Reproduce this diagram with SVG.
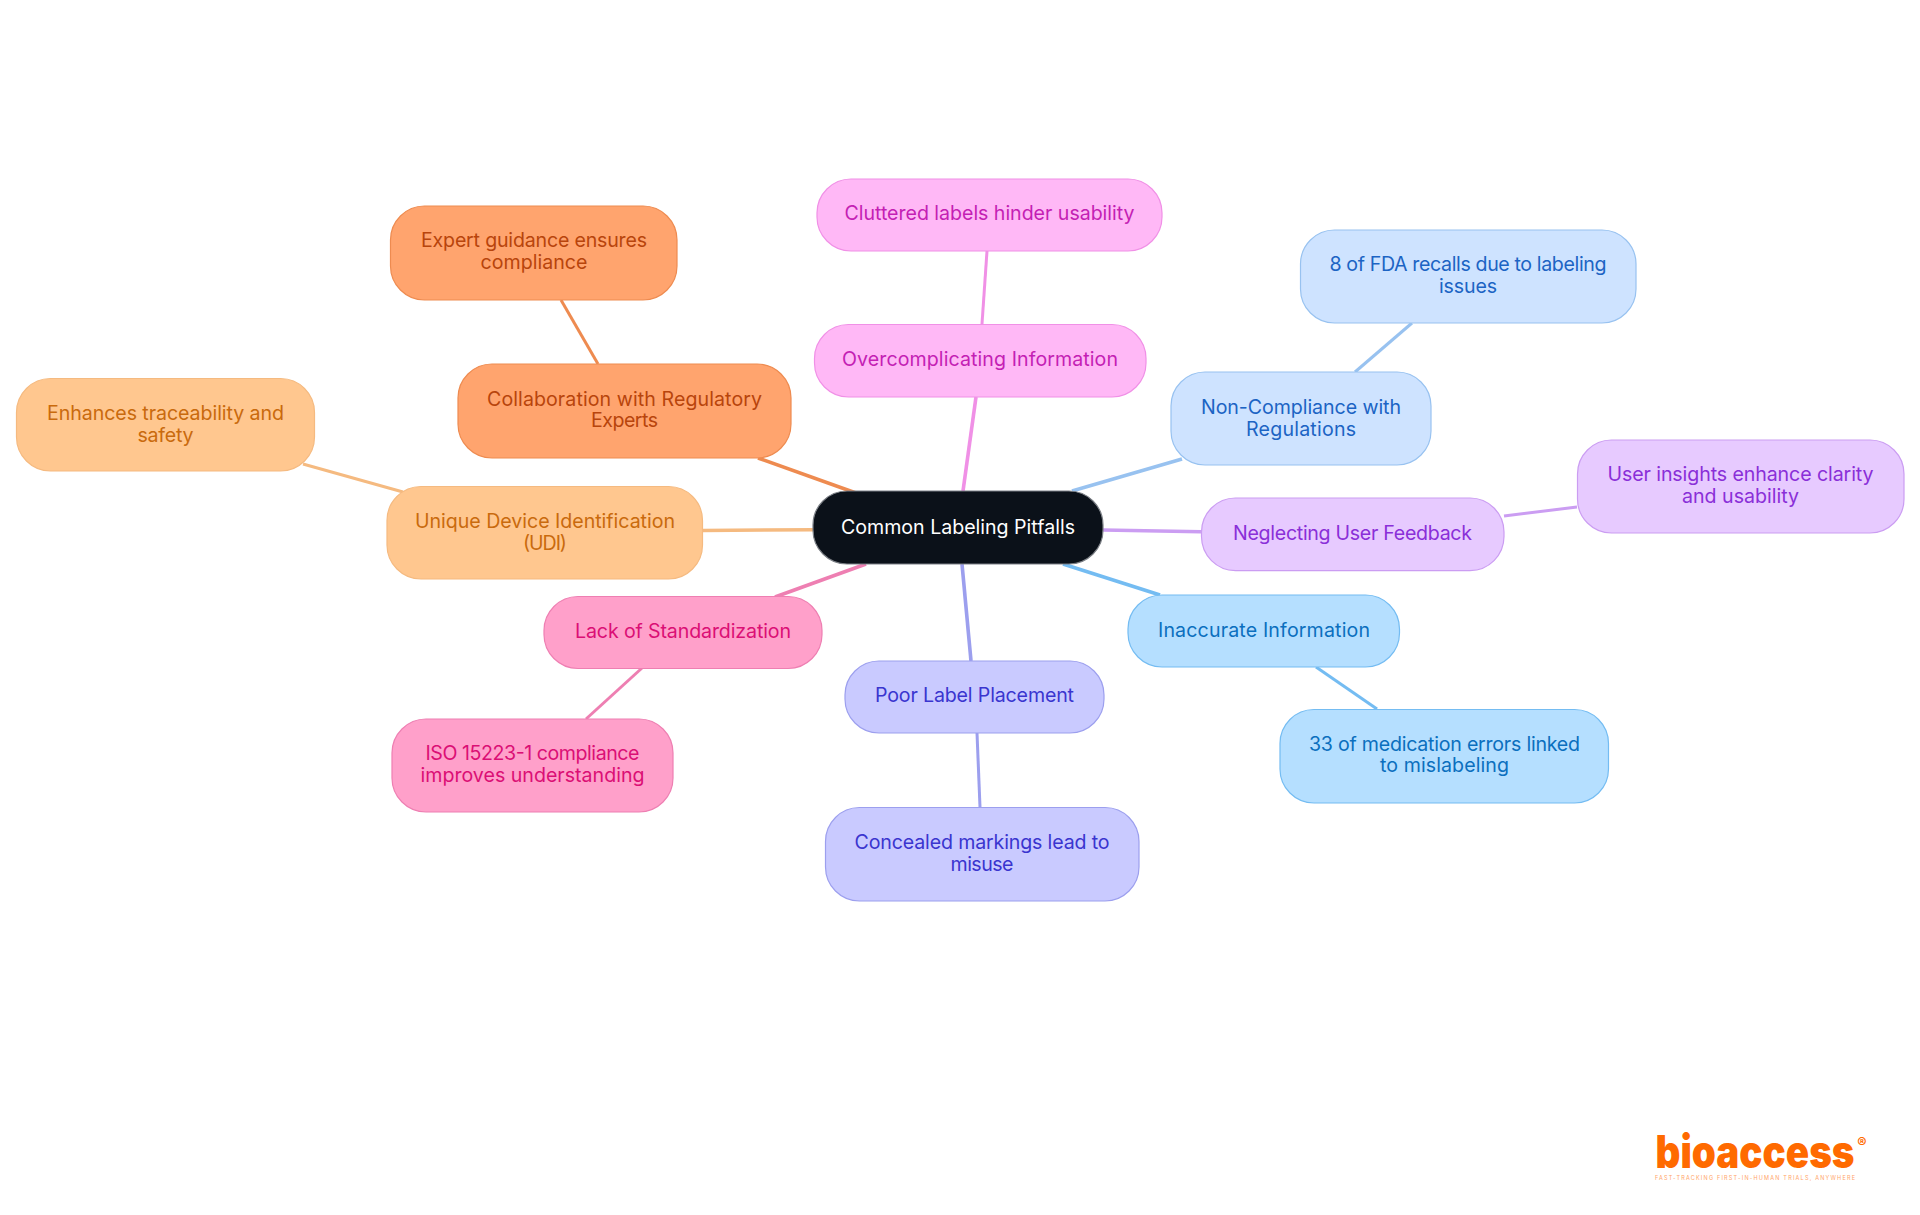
<svg xmlns="http://www.w3.org/2000/svg" width="1920" height="1215" viewBox="0 0 1920 1215">
<style>
text{font-family:"Inter","Liberation Sans",sans-serif;font-size:19.6px;font-weight:400;text-anchor:middle}
rect{stroke-width:1.2}
.c{fill:none;stroke-linecap:butt}
.l1{stroke-width:3.6}.l2{stroke-width:3}
.or{fill:#ffa46e;stroke:#ee8b50}.ort{fill:#b8440c}
.lo{fill:#ffc78f;stroke:#f5ba80}.lot{fill:#c96a0d}
.pk{fill:#ffa0ca;stroke:#ee7fb2}.pkt{fill:#db0f75}
.vi{fill:#c9caff;stroke:#9c9fee}.vit{fill:#3a35cf}
.sk{fill:#b5dfff;stroke:#74bcf2}.skt{fill:#0b6fbe}
.pu{fill:#e7caff;stroke:#cb9df2}.put{fill:#8a2fd8}
.bl{fill:#cee3ff;stroke:#98c2f0}.blt{fill:#1c64c4}
.fu{fill:#ffb8f6;stroke:#f090e6}.fut{fill:#c41fb4}
</style>
<rect width="1920" height="1215" fill="#fff" stroke="none"/>
<g id="connectors">
<g class="c" style="stroke:#ee8b50"><path class="l1" d="M758 458L856 493"/><path class="l2" d="M561 300L598 364"/></g>
<g class="c" style="stroke:#f5ba80"><path class="l1" d="M703 530.500L813 529.700"/><path class="l2" d="M303 464L403 492"/></g>
<g class="c" style="stroke:#ee7fb2"><path class="l1" d="M775 597L866 564"/><path class="l2" d="M642 668L586 719"/></g>
<g class="c" style="stroke:#9c9fee"><path class="l1" d="M962 564L971 661"/><path class="l2" d="M977 733L980 807"/></g>
<g class="c" style="stroke:#74bcf2"><path class="l1" d="M1063 564L1160 595"/><path class="l2" d="M1316 667L1377 709"/></g>
<g class="c" style="stroke:#cb9df2"><path class="l1" d="M1103 530L1201 531.700"/><path class="l2" d="M1504 516L1577 507"/></g>
<g class="c" style="stroke:#98c2f0"><path class="l1" d="M1072 491L1182 459"/><path class="l2" d="M1355 372L1412 323"/></g>
<g class="c" style="stroke:#f090e6"><path class="l1" d="M963 491L976 397"/><path class="l2" d="M982 324L987 251"/></g>
</g>
<g id="root"><rect x="813" y="491" width="290" height="73" rx="34" fill="#0b1119" stroke="#7b7f85"/><text x="958" y="533.500" fill="#fff" textLength="234">Common Labeling Pitfalls</text></g>
<g id="overcomplicating"><rect class="fu" x="814.500" y="324.500" width="331.500" height="72.500" rx="34"/><text class="fut" x="980" y="366" textLength="276">Overcomplicating Information</text></g>
<g id="cluttered"><rect class="fu" x="817" y="179" width="345" height="72" rx="34"/><text class="fut" x="989.500" y="220" textLength="290">Cluttered labels hinder usability</text></g>
<g id="noncompliance"><rect class="bl" x="1171" y="372" width="260" height="93" rx="34"/><text class="blt" x="1301" y="414" textLength="200">Non-Compliance with</text><text class="blt" x="1301" y="435.500" textLength="110">Regulations</text></g>
<g id="fda"><rect class="bl" x="1300.500" y="230" width="335.500" height="93" rx="34"/><text class="blt" x="1468" y="271" textLength="277">8 of FDA recalls due to labeling</text><text class="blt" x="1468" y="293" textLength="58">issues</text></g>
<g id="neglecting"><rect class="pu" x="1201.500" y="498" width="302.500" height="72.600" rx="34"/><text class="put" x="1352.500" y="540" textLength="239">Neglecting User Feedback</text></g>
<g id="insights"><rect class="pu" x="1577.500" y="440" width="326.500" height="93" rx="34"/><text class="put" x="1740.500" y="481" textLength="266">User insights enhance clarity</text><text class="put" x="1740.500" y="503" textLength="117">and usability</text></g>
<g id="inaccurate"><rect class="sk" x="1128" y="595" width="271.500" height="72" rx="34"/><text class="skt" x="1264" y="636.800" textLength="212">Inaccurate Information</text></g>
<g id="errors"><rect class="sk" x="1280" y="709.500" width="328.500" height="93.500" rx="34"/><text class="skt" x="1444.500" y="751" textLength="271">33 of medication errors linked</text><text class="skt" x="1444.500" y="772" textLength="129">to mislabeling</text></g>
<g id="placement"><rect class="vi" x="845" y="661" width="259" height="72" rx="34"/><text class="vit" x="974.500" y="702" textLength="199">Poor Label Placement</text></g>
<g id="concealed"><rect class="vi" x="825.500" y="807.500" width="313.500" height="93.500" rx="34"/><text class="vit" x="982" y="849" textLength="255">Concealed markings lead to</text><text class="vit" x="982" y="871" textLength="63">misuse</text></g>
<g id="standardization"><rect class="pk" x="544" y="596.500" width="278" height="72" rx="34"/><text class="pkt" x="683" y="638" textLength="216">Lack of Standardization</text></g>
<g id="iso"><rect class="pk" x="392" y="719" width="281" height="93" rx="34"/><text class="pkt" x="532.500" y="760" textLength="214">ISO 15223-1 compliance</text><text class="pkt" x="532.500" y="782" textLength="224">improves understanding</text></g>
<g id="udi"><rect class="lo" x="387" y="486.500" width="315.500" height="92.500" rx="34"/><text class="lot" x="545" y="528" textLength="260">Unique Device Identification</text><text class="lot" x="545" y="550" textLength="44">(UDI)</text></g>
<g id="enhances"><rect class="lo" x="16.500" y="378.500" width="298" height="92.500" rx="34"/><text class="lot" x="165.500" y="420" textLength="237">Enhances traceability and</text><text class="lot" x="165.500" y="441.500" textLength="56">safety</text></g>
<g id="collaboration"><rect class="or" x="458" y="364" width="333" height="94" rx="34"/><text class="ort" x="624.500" y="406" textLength="275">Collaboration with Regulatory</text><text class="ort" x="624.500" y="427" textLength="67">Experts</text></g>
<g id="expert"><rect class="or" x="390.500" y="206" width="286.500" height="94" rx="34"/><text class="ort" x="534" y="247" textLength="226">Expert guidance ensures</text><text class="ort" x="534" y="269" textLength="107">compliance</text></g>
<g id="logo"><text x="1755" y="1168" textLength="199" lengthAdjust="spacingAndGlyphs" style="font-size:45px;font-weight:900;fill:#ff6a00">bioaccess</text><text x="1862" y="1148" style="font-size:14px;font-weight:700;fill:#ff6a00">®</text><text x="1755" y="1180" textLength="200" style="font-size:5.500px;font-weight:400;fill:#ffa468">FAST-TRACKING FIRST-IN-HUMAN TRIALS, ANYWHERE</text></g>
</svg>
